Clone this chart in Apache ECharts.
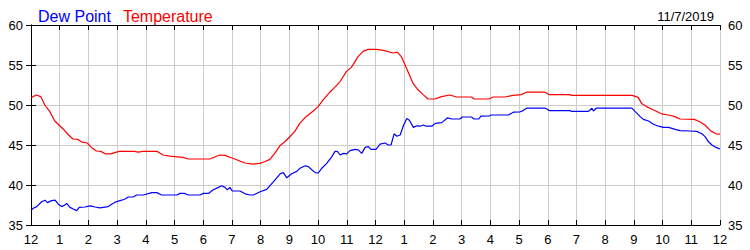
<!DOCTYPE html>
<html>
<head>
<meta charset="utf-8">
<script src="https://cdn.jsdelivr.net/npm/echarts@6/dist/echarts.min.js"></script>
<style>
html,body{margin:0;padding:0;background:#fff;}
#chart{width:750px;height:250px;}
</style>
</head>
<body>
<div id="chart"></div>
<script>
// Hour of day (0 = midnight, 24 = next midnight)
var xTickLabels = ['12','1','2','3','4','5','6','7','8','9','10','11','12','1','2','3','4','5','6','7','8','9','10','11','12'];
var yTickValues = [35, 40, 45, 50, 55, 60];

var tempHours = [0.00,0.18,0.34,0.48,0.65,0.83,1.00,1.15,1.31,1.46,1.64,1.75,1.96,2.10,2.28,2.43,2.59,2.78,2.97,3.09,3.61,3.73,3.90,4.40,4.60,4.83,5.30,5.47,6.23,6.40,6.57,6.75,6.98,7.21,7.45,7.73,7.97,8.14,8.32,8.49,8.67,8.84,9.01,9.19,9.36,9.54,9.71,9.83,10.00,10.17,10.41,10.58,10.76,10.99,11.16,11.39,11.57,11.74,12.03,12.32,12.61,12.76,12.90,13.08,13.31,13.48,13.66,13.83,14.07,14.30,14.59,14.82,15.34,15.44,15.95,16.10,16.50,16.79,17.08,17.26,17.90,18.04,18.77,18.83,20.94,21.15,21.27,21.44,21.67,21.96,22.20,22.43,22.60,23.10,23.30,23.47,23.70,23.87,24.00];
var tempValues = [50.9,51.25,51.05,50.0,49.2,48.0,47.4,46.9,46.25,45.75,45.7,45.4,45.25,44.7,44.25,44.2,43.9,43.9,44.1,44.2,44.2,44.1,44.2,44.2,43.75,43.6,43.45,43.25,43.25,43.5,43.75,43.7,43.4,43.1,42.75,42.6,42.7,42.9,43.2,43.95,44.9,45.4,46.0,46.7,47.7,48.4,48.9,49.25,49.8,50.6,51.6,52.2,52.9,54.2,54.7,56.05,56.7,56.95,56.95,56.8,56.5,56.6,56.05,54.6,52.7,51.9,51.3,50.75,50.75,51.05,51.25,51.0,51.0,50.75,50.75,51.0,51.0,51.2,51.3,51.6,51.6,51.3,51.3,51.2,51.2,50.95,50.2,49.8,49.4,48.9,48.75,48.55,48.25,48.2,47.9,47.5,46.7,46.4,46.35];

var dewHours = [0.00,0.08,0.20,0.37,0.49,0.57,0.72,0.84,0.95,1.07,1.18,1.24,1.36,1.47,1.59,1.68,1.88,2.06,2.23,2.40,2.69,2.81,2.96,3.16,3.28,3.39,3.56,3.68,3.91,4.21,4.38,4.55,5.08,5.19,5.34,5.48,5.89,6.00,6.18,6.35,6.53,6.64,6.76,6.84,6.93,7.01,7.28,7.46,7.63,7.75,7.98,8.21,8.44,8.68,8.79,8.91,9.08,9.26,9.37,9.55,9.66,9.78,9.90,10.01,10.13,10.30,10.48,10.59,10.67,10.77,10.88,11.00,11.11,11.29,11.40,11.52,11.64,11.75,11.84,12.02,12.16,12.33,12.45,12.54,12.65,12.74,12.86,12.97,13.09,13.18,13.32,13.44,13.55,13.67,13.76,13.96,14.08,14.31,14.51,14.66,14.94,15.02,15.34,15.44,15.60,15.67,15.98,16.04,16.63,16.80,17.04,17.14,17.26,17.92,18.05,18.78,18.83,19.42,19.54,19.59,19.69,20.93,21.04,21.22,21.33,21.51,21.68,21.86,22.03,22.21,22.44,22.61,22.96,23.19,23.37,23.48,23.60,23.72,23.86,24.00];
var dewValues = [36.85,37.1,37.3,37.9,38.1,37.8,38.05,38.1,37.6,37.3,37.5,37.7,37.2,37.0,36.8,37.2,37.25,37.4,37.25,37.15,37.3,37.6,37.9,38.1,38.25,38.5,38.5,38.75,38.75,39.05,39.05,38.75,38.75,38.95,38.95,38.75,38.75,38.95,38.95,39.4,39.7,39.9,39.7,39.4,39.7,39.25,39.25,38.9,38.75,38.75,39.15,39.45,40.4,41.4,41.55,40.9,41.4,41.7,42.1,42.4,42.3,41.9,41.55,41.5,42.1,42.7,43.55,44.2,44.2,43.75,43.95,43.9,44.3,44.45,44.4,43.95,44.7,44.8,44.45,44.45,45.1,45.25,45.0,45.0,46.4,46.1,46.25,47.4,48.3,48.1,47.2,47.4,47.35,47.5,47.35,47.35,47.7,47.8,48.4,48.25,48.25,48.5,48.5,48.25,48.25,48.6,48.65,48.75,48.75,49.1,49.15,49.3,49.6,49.6,49.3,49.3,49.2,49.2,49.6,49.25,49.6,49.6,49.2,48.55,48.2,48.0,47.6,47.35,47.2,47.2,46.95,46.8,46.75,46.7,46.4,46.05,45.4,45.0,44.7,44.5];

var dateText = '11/7/2019';

function pairs(xs, ys) {
  var out = [];
  for (var i = 0; i < xs.length; i++) out.push([xs[i], ys[i]]);
  return out;
}

var font = 'Liberation Sans, Arial, sans-serif';
var chart = echarts.init(document.getElementById('chart'), null, {renderer: 'svg'});

var gridLine = {show: true, lineStyle: {color: '#cccccc', width: 1}};
var axisLine = {show: true, lineStyle: {color: '#000', width: 1}};
var tick = {show: true, inside: true, length: 5, lineStyle: {color: '#000', width: 1}};

chart.setOption({
  animation: false,
  backgroundColor: '#ffffff',
  legend: {
    left: 28, top: 3,
    icon: 'none', itemWidth: 0, itemHeight: 10, itemGap: 7,
    selectedMode: false,
    textStyle: {fontFamily: font, fontSize: 16},
    data: [
      {name: 'Dew Point', textStyle: {color: '#0000ff'}},
      {name: 'Temperature', textStyle: {color: '#ff0000'}}
    ]
  },
  title: {
    text: dateText, right: 31, top: 5,
    textStyle: {fontFamily: font, fontSize: 13, fontWeight: 'normal', color: '#000'}
  },
  grid: {left: 31, right: 30, top: 25, bottom: 25, containLabel: false},
  xAxis: [
    {
      type: 'value', position: 'bottom', min: 0, max: 24, interval: 1,
      axisLine: axisLine, axisTick: tick, splitLine: gridLine,
      axisLabel: {
        margin: 8, color: '#000', fontFamily: font, fontSize: 13,
        formatter: function (v) { return xTickLabels[Math.round(v)]; }
      }
    },
    {
      type: 'value', position: 'top', min: 0, max: 24, interval: 1,
      axisLine: axisLine, axisTick: tick, splitLine: {show: false},
      axisLabel: {show: false}
    }
  ],
  yAxis: [
    {
      type: 'value', position: 'left', min: yTickValues[0], max: yTickValues[yTickValues.length - 1], interval: 5,
      axisLine: axisLine, axisTick: tick, splitLine: gridLine,
      axisLabel: {margin: 8, color: '#000', fontFamily: font, fontSize: 13}
    },
    {
      type: 'value', position: 'right', min: yTickValues[0], max: yTickValues[yTickValues.length - 1], interval: 5,
      axisLine: axisLine, axisTick: tick, splitLine: {show: false},
      axisLabel: {margin: 8, color: '#000', fontFamily: font, fontSize: 13}
    }
  ],
  series: [
    {
      name: 'Dew Point', type: 'line', showSymbol: false, symbol: 'none',
      lineStyle: {color: '#0000ff', width: 1.2}, itemStyle: {color: '#0000ff'},
      data: pairs(dewHours, dewValues), z: 3
    },
    {
      name: 'Temperature', type: 'line', showSymbol: false, symbol: 'none',
      lineStyle: {color: '#ff0000', width: 1.2}, itemStyle: {color: '#ff0000'},
      data: pairs(tempHours, tempValues), z: 3
    }
  ]
});
</script>
</body>
</html>
